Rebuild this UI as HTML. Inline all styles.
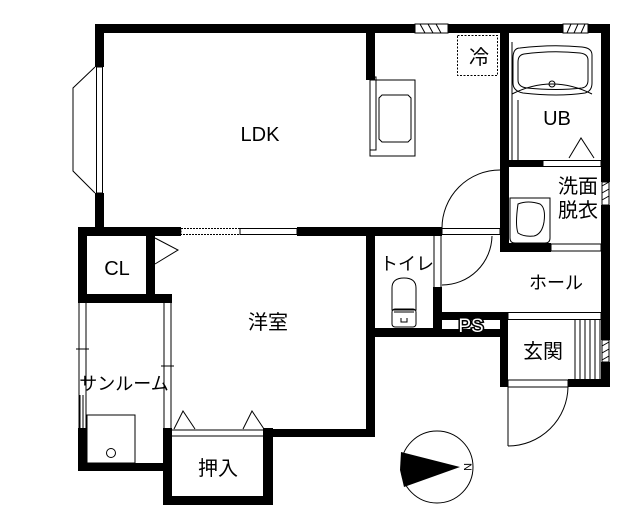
<!DOCTYPE html>
<html><head><meta charset="utf-8"><style>
html,body{margin:0;padding:0;background:#fff;}
svg{display:block;}
text{font-family:"Liberation Sans","Noto Sans CJK JP",sans-serif;fill:#000;}
</style></head><body>
<svg width="640" height="532" viewBox="0 0 640 532" xmlns="http://www.w3.org/2000/svg">
<rect width="640" height="532" fill="#fff"/>
<g fill="#000">
<rect x="95" y="24" width="515" height="9"/>
<rect x="95" y="24" width="9" height="43"/>
<rect x="95" y="193" width="9" height="43"/>
<rect x="366" y="24" width="9" height="56"/>
<rect x="500" y="24" width="9" height="228"/>
<rect x="601" y="24" width="9" height="158"/>
<rect x="601" y="205" width="9" height="135"/>
<rect x="601" y="362" width="9" height="25"/>
<rect x="78" y="227" width="103" height="9"/>
<rect x="297" y="227" width="145" height="9"/>
<rect x="78" y="227" width="9" height="76"/>
<rect x="146" y="227" width="9" height="76"/>
<rect x="78" y="294" width="94" height="9"/>
<rect x="78" y="428" width="9" height="43"/>
<rect x="78" y="463" width="94" height="8"/>
<rect x="163" y="428" width="9" height="77"/>
<rect x="163" y="496" width="110" height="9"/>
<rect x="263" y="428" width="10" height="77"/>
<rect x="263" y="429" width="112" height="8"/>
<rect x="366" y="227" width="9" height="210"/>
<rect x="433" y="287" width="9" height="50"/>
<rect x="366" y="328" width="76" height="9"/>
<rect x="442" y="312" width="66" height="8"/>
<rect x="442" y="329" width="66" height="8"/>
<rect x="500" y="160" width="43" height="7"/>
<rect x="500" y="243" width="51" height="9"/>
<rect x="500" y="312" width="8" height="75"/>
<rect x="568" y="379" width="42" height="8"/>
</g>
<g fill="none" stroke="#000" stroke-width="1">
<polyline points="95,67 73,88 73,171 95,193"/>
<rect x="96.5" y="67" width="6" height="126"/>
<rect x="181" y="228.5" width="59" height="6" stroke-dasharray="2,1"/>
<rect x="240" y="228.5" width="57" height="6"/>
<polyline points="155,238 178,250 155,264"/>
<line x1="79" y1="303" x2="79" y2="428"/><line x1="86" y1="303" x2="86" y2="428"/>
<line x1="76" y1="349" x2="89" y2="349"/>
<line x1="80" y1="395" x2="80" y2="428"/><line x1="83" y1="395" x2="83" y2="428"/>
<line x1="164" y1="303" x2="164" y2="428"/><line x1="171" y1="303" x2="171" y2="428"/>
<line x1="161" y1="366" x2="174" y2="366"/>
<rect x="87" y="415" width="48" height="48"/>
<circle cx="111" cy="453" r="4.5"/>
<line x1="172" y1="430" x2="263" y2="430"/><line x1="172" y1="436" x2="263" y2="436"/>
<polyline points="174,429 183,411 195,429"/>
<polyline points="243,429 252,411 264,429"/>
<rect x="370" y="80" width="45" height="76"/>
<rect x="370" y="77" width="6" height="73"/>
<path d="M382,95 h26 l3,3 v41 l-3,3 h-26 l-3,-3 v-41 z"/>
<rect x="457.5" y="35.5" width="40" height="40" stroke-dasharray="2,1.5"/>
<rect x="415" y="24" width="33" height="9" fill="#fff"/>
<path d="M420,24 l5,9 M428,24 l5,9 M436,24 l5,9"/>
<rect x="563" y="24" width="25" height="9" fill="#fff"/>
<path d="M567,33 l4,-9 M574,33 l4,-9 M581,33 l4,-9"/>
<line x1="512" y1="42" x2="512" y2="160"/>
<line x1="518" y1="100" x2="518" y2="160"/>
<path d="M520,48 q-7,0 -7,10 v25 q0,8 10,10 q35,4 62,0 q7,-2 7,-10 v-28 q0,-7 -10,-8 q-30,-3 -62,1 z"/>
<path d="M524,54 q-6,1 -6,8 v18 q0,7 9,8 q30,3 55,0 q6,-1 6,-8 v-20 q0,-6 -8,-7 q-28,-3 -56,1 z"/>
<circle cx="552" cy="84" r="3"/>
<path d="M512,94 q40,-20 80,0"/>
<rect x="543" y="160.5" width="58" height="6"/>
<polyline points="569,158 581,138 594,158"/>
<path d="M510,198 h40 v40 q0,5 -5,5 h-30 q-5,0 -5,-5 z"/>
<path d="M518,204 q10,-4 22,0 q6,4 4,18 q-2,12 -10,14 q-10,1 -16,-3 q-3,-8 0,-29z"/>
<rect x="551" y="244" width="50" height="7"/>
<rect x="602" y="182" width="7" height="23" fill="#fff"/>
<path d="M602,186 l7,-4 M602,193 l7,-4 M602,200 l7,-4"/>
<path d="M442,228 A58,58 0 0 1 500,170"/>
<rect x="442" y="228.5" width="58" height="6"/>
<line x1="434" y1="236" x2="434" y2="287"/><line x1="441" y1="236" x2="441" y2="287"/>
<path d="M442,285 A50,50 0 0 0 492,236"/>
<path d="M392,310 v-22 q0,-10 12,-10 q12,0 12,10 v22 z"/>
<rect x="392" y="309" width="24" height="18" rx="3"/>
<line x1="394" y1="312" x2="414" y2="312"/>
<path d="M401,318 v4 h6 v-4"/>
<rect x="508" y="312.5" width="93" height="7"/>
<rect x="508" y="380" width="60" height="7"/>
<path d="M575,319 V380 M580,319 V380 M585,319 V380 M590,319 V380 M595,319 V380 M600,319 V380"/>
<rect x="602" y="340" width="7" height="22" fill="#fff"/>
<path d="M602,346 l7,-4 M602,353 l7,-4 M602,360 l7,-4"/>
<line x1="508" y1="387" x2="508" y2="446"/>
<path d="M508,446 A60,60 0 0 0 568,387"/>
<circle cx="437" cy="467" r="36"/>
</g>
<polygon points="401,452 460,467 404,487 400,470" fill="#000"/>
<text x="467" y="467" font-size="11" text-anchor="middle" transform="rotate(90 467 467)" dominant-baseline="middle">N</text>
<text x="471" y="332" font-size="19" text-anchor="middle" fill="#fff" stroke="#000" stroke-width="3" paint-order="stroke" style="fill:#fff">PS</text>
<g font-size="20">
<text x="260" y="141" text-anchor="middle">LDK</text>
<text x="117" y="275" text-anchor="middle">CL</text>
<text x="268" y="329" text-anchor="middle">洋室</text>
<text x="124" y="390" text-anchor="middle" font-size="18">サンルーム</text>
<text x="218" y="475" text-anchor="middle">押入</text>
<text x="479" y="64" text-anchor="middle">冷</text>
<text x="557" y="125" text-anchor="middle">UB</text>
<text x="578" y="193" text-anchor="middle">洗面</text>
<text x="578" y="217" text-anchor="middle">脱衣</text>
<text x="407" y="270" text-anchor="middle" font-size="18">トイレ</text>
<text x="556" y="289" text-anchor="middle" font-size="18">ホール</text>
<text x="543" y="358" text-anchor="middle">玄関</text>
</g>
</svg>
</body></html>
